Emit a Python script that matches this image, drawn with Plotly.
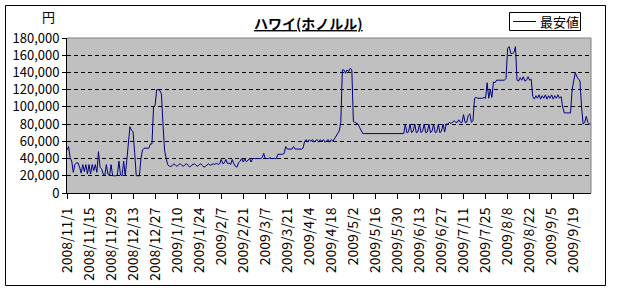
import pandas as pd
import plotly.graph_objects as go

# ---- data ----
dates = pd.date_range("2008-11-01", "2009-09-30", freq="D")

price = [
    50000, 54000, 41000, 37000, 24000, 33000, 35000, 35000, 30000, 23000,
    33000, 25000, 33000, 22000, 33000, 22000, 33000, 26000, 33000, 24000,
    48000, 30000, 28000, 22000, 20000, 33000, 22000, 20000, 33000, 20000,
    20000, 20000, 21000, 37000, 21000, 20000, 37000, 20000, 38000, 55000,
    77000, 73000, 71000, 47000, 20000, 20000, 20000, 40000, 50000, 52000,
    52000, 52000, 52000, 57000, 57000, 100000, 102000, 120000, 120000, 119000,
    115000, 80000, 50000, 40000, 33000, 31000, 31000, 32000, 34000, 32000,
    31000, 33000, 34000, 32000, 31000, 33000, 34000, 32000, 30000, 32000,
    33000, 34000, 32000, 31000, 33000, 34000, 32000, 30000, 31000, 33000,
    34000, 32000, 33000, 34000, 33000, 35000, 33000, 34000, 39000, 34000,
    35000, 39000, 34000, 35000, 33000, 39000, 34000, 31000, 30000, 35000,
    37000, 40000, 36000, 40000, 36000, 38000, 40000, 36000, 40000, 40000,
    40000, 40000, 40000, 40000, 41000, 46000, 40000, 40000, 40000, 41000,
    40000, 40000, 40000, 40000, 45000, 45000, 45000, 45000, 46000, 54000,
    51000, 51000, 51000, 51000, 54000, 51000, 51000, 51000, 51000, 51000,
    52000, 60000, 62000, 59000, 62000, 60000, 62000, 59000, 61000, 62000,
    59000, 62000, 60000, 62000, 59000, 61000, 62000, 59000, 62000, 60000,
    63000, 65000, 68000, 72000, 82000, 143000, 143000, 139000, 143000, 141000,
    145000, 143000, 83000, 82000, 81000, 80000, 76000, 72000, 69000, 69000,
    69000, 69000, 69000, 69000, 69000, 69000, 69000, 69000, 69000, 69000,
    69000, 69000, 69000, 69000, 69000, 69000, 69000, 69000, 69000, 69000,
    69000, 69000, 69000, 69000,
    69000, 80000, 70000, 71000, 80000, 70000, 72000, 80000, 70000, 71000,
    80000, 70000, 72000, 80000, 70000, 71000, 80000, 70000, 72000, 80000,
    70000, 71000, 80000, 70000, 72000, 80000, 71000, 80000,
    80000, 82000, 81000, 82000, 84000, 82000, 82000, 85000, 82000, 82000,
    91000, 82000, 82000, 90000, 92000, 82000, 84000, 110000,
    111000, 110000, 110000, 110000, 110000, 111000, 110000, 128000, 110000, 120000,
    111000, 129000, 128000, 131000, 131000, 131000, 131000, 131000, 131000, 133000,
    168000, 170000, 162000, 162000, 163000, 170000, 131000, 130000, 134000, 131000,
    135000, 130000, 131000, 135000, 131000, 132000, 112000, 109000, 113000, 110000,
    114000, 109000, 113000, 110000, 114000, 109000, 113000, 110000, 114000, 109000,
    113000, 110000, 114000, 110000, 112000, 100000, 93000, 93000, 93000, 93000,
    93000, 120000, 130000, 140000, 135000, 132000, 130000, 100000, 80000, 82000,
    89000, 82000, 80000, 80000,
]
assert len(price) == len(dates), (len(price), len(dates))

tick_dates = ["2008-11-01", "2008-11-15", "2008-11-29", "2008-12-13", "2008-12-27",
              "2009-01-10", "2009-01-24", "2009-02-07", "2009-02-21", "2009-03-07",
              "2009-03-21", "2009-04-04", "2009-04-18", "2009-05-02", "2009-05-16",
              "2009-05-30", "2009-06-13", "2009-06-27", "2009-07-11", "2009-07-25",
              "2009-08-08", "2009-08-22", "2009-09-05", "2009-09-19"]
tick_labels = ["2008/11/1", "2008/11/15", "2008/11/29", "2008/12/13", "2008/12/27",
               "2009/1/10", "2009/1/24", "2009/2/7", "2009/2/21", "2009/3/7",
               "2009/3/21", "2009/4/4", "2009/4/18", "2009/5/2", "2009/5/16",
               "2009/5/30", "2009/6/13", "2009/6/27", "2009/7/11", "2009/7/25",
               "2009/8/8", "2009/8/22", "2009/9/5", "2009/9/19"]
y_ticks = [0, 20000, 40000, 60000, 80000, 100000, 120000, 140000, 160000, 180000]

title_text = "ハワイ(ホノルル)"
series_name = "最安値"
y_unit = "円"

# ---- layout geometry (px) ----
W, H = 617, 290
L, R, T, B = 67, 591, 38, 193
pw, ph = R - L, B - T

def px(x):
    return (x - L) / pw

def py(y):
    return (B - y) / ph

FONT = "MS PGothic, Noto Sans CJK JP, sans-serif"
LINE_COLOR = "#000080"

fig = go.Figure()
fig.add_trace(go.Scatter(
    x=dates, y=price, mode="lines", name=series_name,
    line=dict(color=LINE_COLOR, width=1), showlegend=False,
))

fig.update_layout(
    width=W, height=H,
    margin=dict(l=L, r=W - R, t=T, b=H - B, pad=0),
    paper_bgcolor="white",
    plot_bgcolor="#C0C0C0",
    font=dict(family=FONT, size=13, color="black"),
    showlegend=False,
    xaxis=dict(
        type="date",
        range=[dates[0], dates[-1]],
        tickvals=tick_dates, ticktext=tick_labels,
        tickangle=-90,
        ticks="outside", ticklen=5, tickcolor="black", tickwidth=1,
        ticklabelstandoff=3,
        showgrid=False, zeroline=False,
        showline=True, linecolor="black", linewidth=1,
        automargin=False,
        tickfont=dict(size=14),
    ),
    yaxis=dict(
        range=[0, 180000],
        tickvals=y_ticks, tickformat=",d",
        ticks="outside", ticklen=4, tickcolor="black",
        showgrid=True, gridcolor="black", gridwidth=1, griddash="4px,3px",
        zeroline=False,
        showline=True, linecolor="black", linewidth=1,
        automargin=False,
        tickfont=dict(size=13),
    ),
    shapes=[
        dict(type="line", xref="paper", yref="paper", x0=0, x1=1, y0=1, y1=1,
             line=dict(color="#808080", width=1)),
        dict(type="line", xref="paper", yref="paper", x0=1, x1=1, y0=0, y1=1,
             line=dict(color="#808080", width=1)),
        dict(type="rect", xref="paper", yref="paper",
             x0=px(5.5), x1=px(605.5), y0=py(285.5), y1=py(5.5),
             line=dict(color="black", width=1)),
        dict(type="rect", xref="paper", yref="paper",
             x0=px(509.5), x1=px(580.5), y0=py(30.5), y1=py(12.5),
             line=dict(color="black", width=1), fillcolor="white"),
        dict(type="line", xref="paper", yref="paper",
             x0=px(513), x1=px(536), y0=py(21.5), y1=py(21.5),
             line=dict(color=LINE_COLOR, width=1)),
    ],
    annotations=[
        dict(text="<b><u>" + title_text + "</u></b>", xref="paper", yref="paper",
             x=px(308), y=py(23), xanchor="center", yanchor="middle",
             showarrow=False, font=dict(size=14)),
        dict(text=y_unit, xref="paper", yref="paper",
             x=px(48), y=py(17), xanchor="center", yanchor="middle",
             showarrow=False, font=dict(size=13)),
        dict(text=series_name, xref="paper", yref="paper",
             x=px(538), y=py(21.5), xanchor="left", yanchor="middle",
             showarrow=False, font=dict(size=13)),
    ],
)

fig.write_html("out.html")
